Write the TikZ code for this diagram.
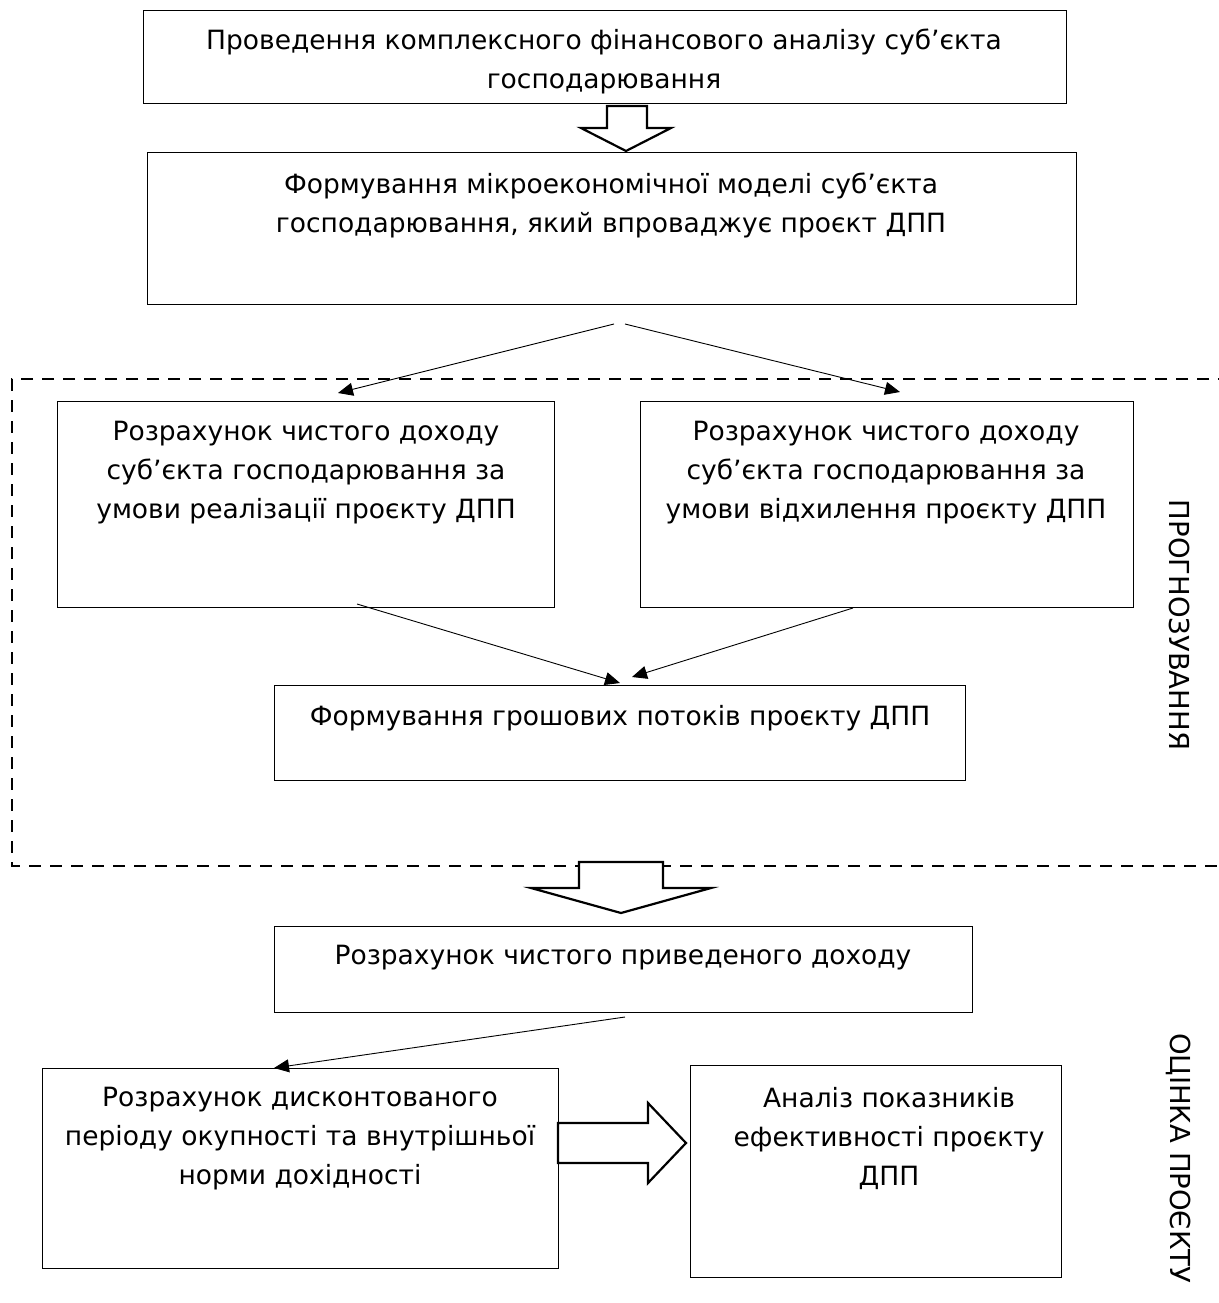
\documentclass[tikz,border=0pt]{standalone}
\usepackage{fontspec}
\setmainfont{DejaVu Sans}
\usetikzlibrary{arrows.meta}
\begin{document}
\begin{tikzpicture}[x=1pt,y=-1pt,
  box/.style={draw, line width=1pt, inner sep=0pt, anchor=north west},
  txt/.style={align=center, font=\fontsize{26.5}{39}\selectfont, inner sep=0pt},
  side/.style={font=\fontsize{27.5}{30}\selectfont, inner sep=0pt, rotate=-90},
  conn/.style={line width=0.9pt, -{Triangle[length=15pt,width=13pt]}},
  hollow/.style={draw, line width=2.2pt, fill=white, line join=miter}]
\useasboundingbox (0,0) rectangle (1218,1303);
% dashed frame
\draw[line width=2.5pt, dash pattern=on 12pt off 9pt] (1230,379) -- (12,379) -- (12,866) -- (1230,866);
% boxes
\node[box, minimum width=923pt, minimum height=93pt] (b1) at (143,10) {};
\node[box, minimum width=929pt, minimum height=152pt] (b2) at (147,152) {};
\node[box, minimum width=497pt, minimum height=206pt] (b3) at (57,401) {};
\node[box, minimum width=493pt, minimum height=206pt] (b4) at (640,401) {};
\node[box, minimum width=691pt, minimum height=95pt] (b5) at (274,685) {};
\node[box, minimum width=698pt, minimum height=86pt] (b6) at (274,926) {};
\node[box, minimum width=516pt, minimum height=200pt] (b7) at (42,1068) {};
\node[box, minimum width=371pt, minimum height=212pt] (b8) at (690,1065) {};
% texts
\node[txt] (t1) at (604,61) {Проведення комплексного фінансового аналізу суб’єкта\\господарювання};
\node[txt] (t2) at (611,205) {Формування мікроекономічної моделі суб’єкта\\господарювання, який впроваджує проєкт ДПП};
\node[txt] (t3) at (306,473) {Розрахунок чистого доходу\\суб’єкта господарювання за\\умови реалізації проєкту ДПП};
\node[txt] (t4) at (886,473) {Розрахунок чистого доходу\\суб’єкта господарювання за\\умови відхилення проєкту ДПП};
\node[txt] (t5) at (620,718) {Формування грошових потоків проєкту ДПП};
\node[txt] (t6) at (623,958) {Розрахунок чистого приведеного доходу};
\node[txt] (t7) at (300,1139) {Розрахунок дисконтованого\\періоду окупності та внутрішньої\\норми дохідності};
\node[txt] (t8) at (889,1138) {Аналіз показників\\ефективності проєкту\\ДПП};
\node[side] (s1) at (1179,625) {ПРОГНОЗУВАННЯ};
\node[side, anchor=west] (s2) at (1179,1033) {ОЦІНКА ПРОЄКТУ};
% hollow arrows
\path[hollow] (607,106) -- (647,106) -- (647,128) -- (671,128) -- (626,151) -- (581,128) -- (607,128) -- cycle;
\path[hollow] (579,862) -- (663,862) -- (663,888) -- (711,888) -- (621,913) -- (531,888) -- (579,888) -- cycle;
\path[hollow] (558,1123) -- (648,1123) -- (648,1103) -- (686,1143) -- (648,1183) -- (648,1163) -- (558,1163) -- cycle;
% connectors
\coordinate (s2a) at (614,324);
\coordinate (s2b) at (625,324);
\coordinate (e3) at (338,393);
\coordinate (e4) at (900,392);
\draw[conn] (s2a) -- (e3);
\draw[conn] (s2b) -- (e4);
\coordinate (s3) at (357,604);
\coordinate (s4) at (853,608);
\coordinate (e5a) at (620,683);
\coordinate (e5b) at (632,677);
\draw[conn] (s3) -- (e5a);
\draw[conn] (s4) -- (e5b);
\coordinate (s6) at (625,1017);
\coordinate (e7) at (274,1068);
\draw[conn] (s6) -- (e7);
\end{tikzpicture}
\end{document}
